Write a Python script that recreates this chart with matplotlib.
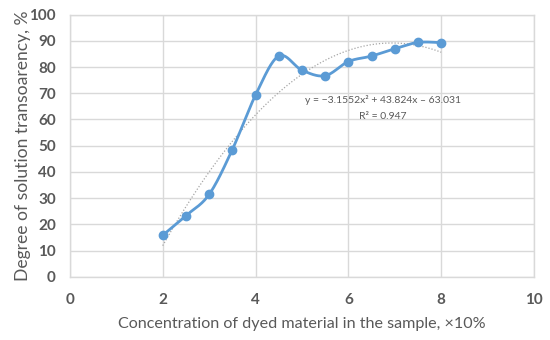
import numpy as np
import matplotlib
matplotlib.use("Agg")
import matplotlib.pyplot as plt

# data
conc = [2, 2.5, 3, 3.5, 4, 4.5, 5, 5.5, 6, 6.5, 7, 7.5, 8]
transp = [15.8, 23.3, 31.4, 48.5, 69.3, 84.2, 78.8, 76.7, 82.1, 84.2, 87.0, 89.4, 89.3]
xticks = [0, 2, 4, 6, 8, 10]
yticks = list(range(0, 101, 10))

blue = "#5B9BD5"
grey = "#595959"
grid_c = "#D9D9D9"


def smooth(x, y, n=30):
    # excel-like smoothed line (cardinal bezier)
    x = np.asarray(x, float)
    y = np.asarray(y, float)
    px = np.concatenate([[x[0]], x, [x[-1]]])
    py = np.concatenate([[y[0]], y, [y[-1]]])
    xs, ys = [], []
    t = np.linspace(0, 1, n)
    for i in range(1, len(px) - 2):
        p0 = np.array([px[i], py[i]])
        p3 = np.array([px[i + 1], py[i + 1]])
        p1 = p0 + (np.array([px[i + 1], py[i + 1]]) - np.array([px[i - 1], py[i - 1]])) / 6
        p2 = p3 - (np.array([px[i + 2], py[i + 2]]) - np.array([px[i], py[i]])) / 6
        b = ((1 - t) ** 3)[:, None] * p0 + (3 * (1 - t) ** 2 * t)[:, None] * p1 \
            + (3 * (1 - t) * t ** 2)[:, None] * p2 + (t ** 3)[:, None] * p3
        xs.extend(b[:, 0])
        ys.extend(b[:, 1])
    return np.array(xs), np.array(ys)


plt.rcParams['font.family'] = ['Lato', 'DejaVu Sans']

fig = plt.figure(figsize=(5.5, 3.4), dpi=100)
ax = fig.add_axes([0.127, 0.186, 0.844, 0.771])

ax.set_xlim(0, 10)
ax.set_ylim(0, 100)
ax.set_xticks(xticks)
ax.set_yticks(yticks)
ax.grid(True, color=grid_c, linewidth=1)
ax.set_axisbelow(True)
for s in ax.spines.values():
    s.set_color(grid_c)
    s.set_linewidth(1)
ax.tick_params(length=0, colors=grey, labelsize=11)
ax.tick_params(axis='y', pad=10)
ax.tick_params(axis='x', pad=12)
for lab in ax.get_xticklabels() + ax.get_yticklabels():
    lab.set_fontweight('bold')

# polynomial trendline
coef = np.polyfit(conc, transp, 2)
xt = np.linspace(conc[0], conc[-1], 200)
ax.plot(xt, np.polyval(coef, xt), linestyle=(0, (1, 1.5)), color="#A6A6A6", linewidth=0.9)

sx, sy = smooth(conc, transp)
ax.plot(sx, sy, color=blue, linewidth=2)
ax.plot(conc, transp, 'o', color=blue, markersize=6)

ax.text(6.75, 67.4, "y = \u22123.1552x\u00b2 + 43.824x \u2013 63.031", ha='center', va='center',
        fontsize=7.5, color=grey)
ax.text(6.75, 61.3, "R\u00b2 = 0.947", ha='center', va='center', fontsize=7.5, color=grey)

ax.set_xlabel("Concentration of dyed material in the sample, \u00d710%", fontsize=11.6, color=grey, labelpad=7)
ax.set_ylabel("Degree of solution transoarency, %", fontsize=12.6, color=grey, labelpad=-1)

fig.savefig("out.png", dpi=100)
